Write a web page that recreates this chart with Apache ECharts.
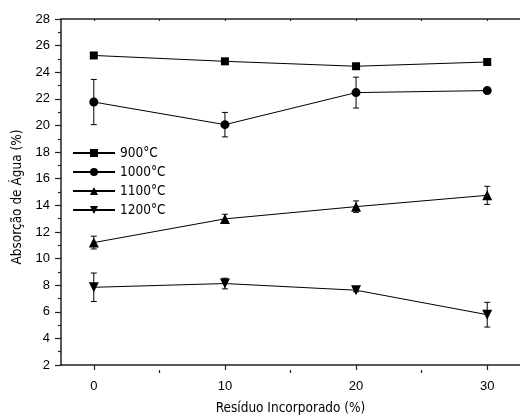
<!DOCTYPE html>
<html><head><meta charset="utf-8">
<script src="https://cdn.jsdelivr.net/npm/echarts@6/dist/echarts.min.js"></script>
<style>html,body{margin:0;padding:0;background:#fff}#c{width:520px;height:420px}</style>
</head><body><div id="c"></div><script>
const residuo = [0, 10, 20, 30];
const xMajorTicks = [0, 10, 20, 30];
const xMinorTicks = [5, 15, 25];
const xTopTicks = [0, 5, 10, 15, 20, 25, 30];
const seriesNames = ['900°C', '1000°C', '1100°C', '1200°C'];
const s900 = [25.26, 24.82, 24.45, 24.77];
const s1000 = [21.76, 20.06, 22.47, 22.62];
const s1100 = [11.20, 12.98, 13.90, 14.75];
const s1200 = [7.84, 8.12, 7.62, 5.78];
const e900 = [0, 0, 0, 0];
const e1000 = [1.70, 0.92, 1.16, 0.22];
const e1100 = [0.48, 0.35, 0.43, 0.68];
const e1200 = [1.07, 0.40, 0.12, 0.93];

const values = [s900, s1000, s1100, s1200];
const errors = [e900, e1000, e1100, e1200];
const symbols = ['rect', 'circle', 'triangle', 'triangle'];
const sizes = [8, 9, 10, 10];
const rotates = [0, 0, 0, 180];
const FN = '"Liberation Sans Narrow", "DejaVu Sans Condensed", "Liberation Sans", sans-serif';
const FR = '"Liberation Sans", Arial, sans-serif';

const chart = echarts.init(document.getElementById('c'), null, {renderer: 'canvas'});

const series = [];
values.forEach((v, i) => {
  series.push({
    name: seriesNames[i], type: 'line', xAxisIndex: 0, yAxisIndex: 0,
    data: residuo.map((x, k) => [x, v[k]]),
    symbol: symbols[i], symbolSize: sizes[i], symbolRotate: rotates[i],
    showAllSymbol: true,
    lineStyle: {color: '#000', width: 1},
    itemStyle: {color: '#000'},
    z: 3, animation: false
  });
  series.push({
    name: seriesNames[i] + ' err', type: 'custom', xAxisIndex: 0, yAxisIndex: 0,
    data: residuo.map((x, k) => [x, v[k] - errors[i][k], v[k] + errors[i][k]]),
    renderItem: function (params, api) {
      const lo = api.coord([api.value(0), api.value(1)]);
      const hi = api.coord([api.value(0), api.value(2)]);
      if (Math.abs(hi[1] - lo[1]) < 1) return null;
      const w = 3;
      const st = {stroke: '#000', lineWidth: 1};
      return {type: 'group', children: [
        {type: 'line', shape: {x1: lo[0], y1: lo[1], x2: hi[0], y2: hi[1]}, style: st},
        {type: 'line', shape: {x1: lo[0] - w, y1: lo[1], x2: lo[0] + w, y2: lo[1]}, style: st},
        {type: 'line', shape: {x1: hi[0] - w, y1: hi[1], x2: hi[0] + w, y2: hi[1]}, style: st}
      ]};
    },
    z: 2, animation: false, silent: true
  });
});

series.push({type: 'line', xAxisIndex: 2, yAxisIndex: 1, data: [], silent: true});

const axisLineStyle = {color: '#222', width: 1.5};

chart.setOption({
  animation: false,
  backgroundColor: '#fff',
  grid: [
    {left: 61, top: 19, right: -11, bottom: 50, containLabel: false},
    {left: 61, top: 19, right: -11, bottom: 50, containLabel: false}
  ],
  legend: {
    data: seriesNames, orient: 'vertical', left: 72, top: 146, padding: 0,
    itemWidth: 42, itemHeight: 10, itemGap: 5,
    textStyle: {fontFamily: FN, fontSize: 13.5, color: '#000'},
    selectedMode: false
  },
  xAxis: [
    {type: 'value', gridIndex: 0, position: 'bottom', min: -2.5, max: 32.5,
     axisLine: {show: true, onZero: false, lineStyle: axisLineStyle},
     axisTick: {show: true, customValues: xMajorTicks, length: 5, inside: false, lineStyle: {color: '#222', width: 1.2}},
     axisLabel: {show: true, customValues: xMajorTicks, margin: 15, fontFamily: FR, fontSize: 13, color: '#000'},
     splitLine: {show: false},
     name: 'Resíduo Incorporado (%)', nameLocation: 'middle', nameGap: 36,
     nameTextStyle: {fontFamily: FN, fontSize: 13.5, color: '#000'}},
    {type: 'value', gridIndex: 0, position: 'top', min: -2.5, max: 32.5,
     axisLine: {show: true, onZero: false, lineStyle: axisLineStyle},
     axisTick: {show: true, customValues: xTopTicks, length: 2, inside: true, lineStyle: {color: '#222', width: 1.2}},
     axisLabel: {show: false}, splitLine: {show: false}},
    {type: 'value', gridIndex: 1, position: 'bottom', min: -2.5, max: 32.5,
     axisLine: {show: false, onZero: false},
     axisTick: {show: true, customValues: xMinorTicks, length: 3, inside: false, lineStyle: {color: '#222', width: 1.2}},
     axisLabel: {show: false}, splitLine: {show: false}}
  ],
  yAxis: [
    {type: 'value', gridIndex: 0, position: 'left', min: 2, max: 28, interval: 2,
     axisLine: {show: true, onZero: false, lineStyle: axisLineStyle},
     axisTick: {show: true, length: 6, inside: false, lineStyle: {color: '#222', width: 1.2}},
     minorTick: {show: true, splitNumber: 2, length: 3, lineStyle: {color: '#222', width: 1.2}},
     axisLabel: {margin: 11, fontFamily: FR, fontSize: 13, color: '#000'},
     splitLine: {show: false}, minorSplitLine: {show: false},
     name: 'Absorção de Água (%)', nameLocation: 'middle', nameGap: 36,
     nameTextStyle: {fontFamily: FN, fontSize: 13.5, color: '#000', padding: [0, 10, 0, 0]}},
    {type: 'value', gridIndex: 1, min: 2, max: 28, show: false}
  ],
  series: series
});
</script></body></html>
